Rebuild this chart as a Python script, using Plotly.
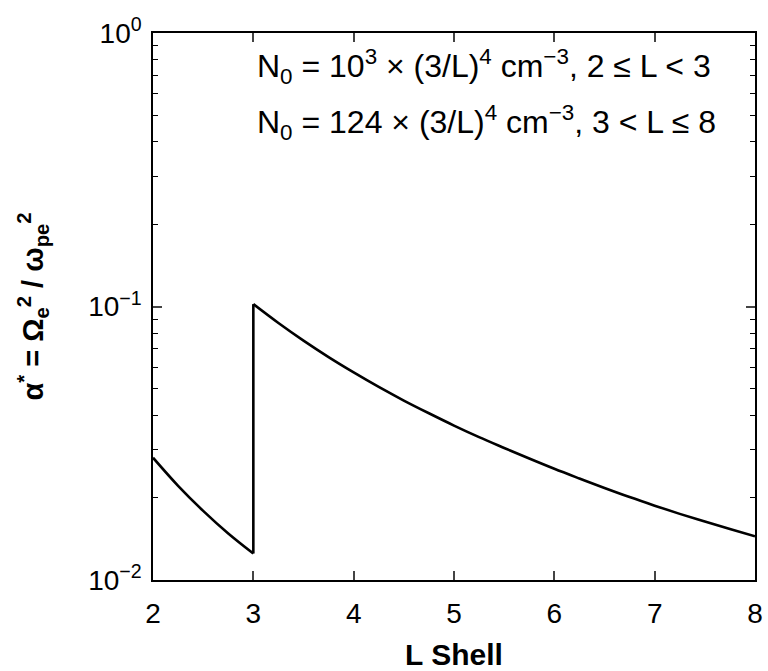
import plotly.graph_objects as go

# Inner region (2 <= L < 3)
l_inner = [2.0, 2.25, 2.5, 2.75, 3.0]
alpha_inner = [0.0280, 0.0221, 0.0179, 0.0148, 0.0125]
# Outer region (3 < L <= 8)
l_outer = [3.0, 3.25, 3.5, 3.75, 4.0, 4.25, 4.5, 4.75, 5.0, 5.25, 5.5, 5.75,
           6.0, 6.25, 6.5, 6.75, 7.0, 7.25, 7.5, 7.75, 8.0]
alpha_outer = [0.102, 0.087, 0.075, 0.0653, 0.0574, 0.0508, 0.0453, 0.0407,
               0.0367, 0.0333, 0.0304, 0.0278, 0.0255, 0.0235, 0.0217, 0.0201,
               0.0187, 0.01745, 0.01635, 0.01535, 0.01445]

x_ticks = [2, 3, 4, 5, 6, 7, 8]
y_ticks = [0.01, 0.1, 1]
y_ticktext = ["10<sup>−2</sup>", "10<sup>−1</sup>", "10<sup>0</sup>"]
y_minor = [k * 10 ** e for e in (-2, -1) for k in range(2, 10)]

font_family = "Liberation Sans, Arial, Helvetica, sans-serif"
line_style = dict(color="black", width=2.6)

fig = go.Figure()
fig.add_trace(go.Scatter(x=l_inner, y=alpha_inner, mode="lines",
                         line=dict(shape="spline", **line_style), showlegend=False))
fig.add_trace(go.Scatter(x=[l_inner[-1], l_outer[0]], y=[alpha_inner[-1], alpha_outer[0]],
                         mode="lines", line=line_style, showlegend=False))
fig.add_trace(go.Scatter(x=l_outer, y=alpha_outer, mode="lines",
                         line=dict(shape="spline", **line_style), showlegend=False))

fig.update_layout(
    width=768, height=671,
    margin=dict(l=153, r=13, t=33, b=91),
    paper_bgcolor="white", plot_bgcolor="white",
    font=dict(family=font_family, size=28, color="black"),
    xaxis=dict(
        range=[2, 8], tickvals=x_ticks, ticks="inside", ticklen=9, tickwidth=1.5,
        showline=True, linecolor="black", linewidth=1.5, mirror="ticks",
        showgrid=False, zeroline=False, automargin=False,
        ticklabelstandoff=8,
        title=dict(text="<b>L Shell</b>", font=dict(size=30), standoff=18),
        tickfont=dict(size=28),
    ),
    yaxis=dict(
        type="log", range=[-2, 0], tickvals=y_ticks, ticktext=y_ticktext,
        ticks="inside", ticklen=9, tickwidth=1.5,
        showline=True, linecolor="black", linewidth=1.5, mirror="ticks",
        showgrid=False, zeroline=False, automargin=False,
        ticklabelstandoff=4,
        minor=dict(tickvals=y_minor, ticks="inside", ticklen=5, tickwidth=1.2,
                   tickcolor="black", showgrid=False),
        title=dict(text="<b>α<sup>*</sup> = Ω<sub>e</sub><sup>2</sup> / ω<sub>pe</sub><sup>2</sup></b>",
                   font=dict(size=29), standoff=36),
        tickfont=dict(size=28),
    ),
)

fig.add_annotation(
    xref="paper", yref="paper", x=0.169, y=0.938, xanchor="left", yanchor="middle",
    text="N<sub>0</sub> = 10<sup>3</sup> × (3/L)<sup>4</sup> cm<sup>−3</sup>, 2 ≤ L < 3",
    showarrow=False, font=dict(size=32),
)
fig.add_annotation(
    xref="paper", yref="paper", x=0.169, y=0.837, xanchor="left", yanchor="middle",
    text="N<sub>0</sub> = 124 × (3/L)<sup>4</sup> cm<sup>−3</sup>, 3 < L ≤ 8",
    showarrow=False, font=dict(size=32),
)

fig.write_html("out.html", config={"displayModeBar": False},
               post_script="document.body.style.margin='0';")
